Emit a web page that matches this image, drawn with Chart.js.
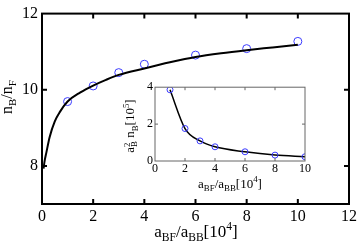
<!DOCTYPE html>
<html>
<head>
<meta charset="utf-8">
<script src="https://cdn.jsdelivr.net/npm/chart.js@4"></script>
<style>
  html, body { margin: 0; padding: 0; background: #fff; }
  #wrap { position: relative; width: 360px; height: 245px; overflow: hidden; font-family: "Liberation Serif", serif; color: #000; }
  canvas { position: absolute; }
  .lbl { position: absolute; white-space: nowrap; line-height: 1; transform: translate(-50%, -50%); }
  .lbl sub, .lbl sup { font-size: 0.68em; line-height: 0; }
  .rot { transform: translate(-50%, -50%) rotate(-90deg); }
  .stack { display: inline-block; vertical-align: middle; line-height: 0.8; font-size: 0.68em; text-align: left; }
</style>
</head>
<body>
<div id="wrap">
  <canvas id="main" width="360" height="245" style="left:0;top:0"></canvas>
  <canvas id="inset" width="195" height="120" style="left:120px;top:78px"></canvas>
  <div class="lbl rot" style="left:7px;top:97px;font-size:16px">n<sub>B</sub>/n<sub>F</sub></div>
  <div class="lbl" style="left:196px;top:231px;font-size:17px">a<sub>BF</sub>/a<sub>BB</sub>[10<sup>4</sup>]</div>
  <div class="lbl" style="left:230px;top:183px;font-size:13px">a<sub>BF</sub>/a<sub>BB</sub>[10<sup>4</sup>]</div>
  <div class="lbl rot" style="left:131px;top:126px;font-size:13px">a<span class="stack">2<br>B</span> n<sub>B</sub>[10<sup>5</sup>]</div>
</div>
<script>
// main panel: simulation points and fitted curve
const mainX = [1, 2, 3, 4, 6, 8, 10];
const mainY = [9.69, 10.10, 10.45, 10.67, 10.91, 11.08, 11.27];
const curveX = [0.06, 0.1, 0.17, 0.3, 0.5, 0.7, 1, 1.5, 2, 2.5, 3, 4, 5, 6, 7, 8, 9, 10];
const curveY = [7.93, 8.12, 8.35, 8.76, 9.17, 9.42, 9.69, 9.93, 10.11, 10.26, 10.39, 10.56, 10.72, 10.86, 10.96, 11.04, 11.11, 11.18];
const mainXTicks = [0, 2, 4, 6, 8, 10, 12];
const mainYTicks = [8, 10, 12];

// inset panel
const insetX = [1, 2, 3, 4, 6, 8, 10];
const insetY = [3.86, 1.76, 1.09, 0.77, 0.50, 0.32, 0.23];
const insetXTicks = [0, 2, 4, 6, 8, 10];
const insetYTicks = [0, 2, 4];

const pts = (xs, ys) => xs.map((x, i) => ({ x: x, y: ys[i] }));

// box round the plot area with inward ticks on all four sides
function frame(color, width, len) {
  return {
    id: 'frame',
    afterDraw(chart) {
      const ctx = chart.ctx, a = chart.chartArea;
      const sx = chart.scales.x, sy = chart.scales.y;
      ctx.save();
      ctx.strokeStyle = color;
      ctx.lineWidth = width;
      ctx.strokeRect(a.left, a.top, a.right - a.left, a.bottom - a.top);
      ctx.beginPath();
      sx.ticks.forEach(t => {
        if (t.value <= sx.min || t.value >= sx.max) return;
        const px = sx.getPixelForValue(t.value);
        ctx.moveTo(px, a.bottom); ctx.lineTo(px, a.bottom - len);
        ctx.moveTo(px, a.top); ctx.lineTo(px, a.top + len);
      });
      sy.ticks.forEach(t => {
        if (t.value <= sy.min || t.value >= sy.max) return;
        const py = sy.getPixelForValue(t.value);
        ctx.moveTo(a.left, py); ctx.lineTo(a.left + len, py);
        ctx.moveTo(a.right, py); ctx.lineTo(a.right - len, py);
      });
      ctx.stroke();
      ctx.restore();
    }
  };
}

function axis(min, max, tickVals, size, pad, fit) {
  return {
    type: 'linear', min: min, max: max,
    afterBuildTicks: s => { s.ticks = tickVals.map(v => ({ value: v })); },
    afterFit: fit,
    grid: { display: false, drawTicks: false },
    border: { display: false },
    ticks: { color: '#000', padding: pad, maxRotation: 0, font: { family: 'Liberation Serif', size: size } }
  };
}

new Chart(document.getElementById('main'), {
  type: 'scatter',
  data: {
    datasets: [
      {
        data: pts(curveX, curveY), showLine: true, cubicInterpolationMode: 'monotone',
        borderColor: '#000', borderWidth: 2, pointRadius: 0
      },
      {
        data: pts(mainX, mainY), showLine: false,
        pointRadius: 4, pointBorderWidth: 1, pointBorderColor: 'rgb(60,60,255)', pointBackgroundColor: 'rgba(0,0,0,0)'
      }
    ]
  },
  options: {
    responsive: false, animation: false, devicePixelRatio: 1,
    layout: { padding: { top: 5, right: 10, left: 0, bottom: 0 } },
    plugins: { legend: { display: false }, tooltip: { enabled: false } },
    scales: {
      x: axis(0, 12, mainXTicks, 16, 3, s => { s.height = 41; }),
      y: axis(7, 12, mainYTicks, 16, 4, s => { s.width = 42; })
    }
  },
  plugins: [frame('#000', 2, 5)]
});

new Chart(document.getElementById('inset'), {
  type: 'scatter',
  data: {
    datasets: [
      {
        data: pts(insetX, insetY), showLine: true, cubicInterpolationMode: 'monotone',
        borderColor: '#000', borderWidth: 1.5,
        pointRadius: 3, pointBorderWidth: 1, pointBorderColor: 'rgb(60,60,255)', pointBackgroundColor: 'rgba(0,0,0,0)'
      }
    ]
  },
  options: {
    responsive: false, animation: false, devicePixelRatio: 1,
    layout: { padding: { top: 9, right: 10, left: 0, bottom: 0 } },
    plugins: { legend: { display: false }, tooltip: { enabled: false } },
    scales: {
      x: axis(0, 10, insetXTicks, 12, 1, s => { s.height = 37; }),
      y: axis(0, 4, insetYTicks, 12, 2, s => { s.width = 35; })
    }
  },
  plugins: [frame('#666', 1, 3)]
});
</script>
</body>
</html>
